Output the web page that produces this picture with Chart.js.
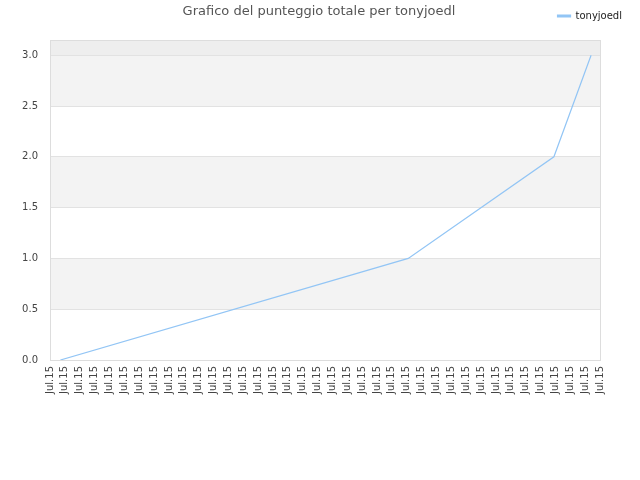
<!DOCTYPE html>
<html>
<head>
<meta charset="utf-8">
<script src="https://cdn.jsdelivr.net/npm/chart.js@4/dist/chart.umd.min.js"></script>
<style>
  html, body { margin: 0; padding: 0; background: #fff; }
  #wrap { width: 640px; height: 480px; }
</style>
</head>
<body>
<div id="wrap"><canvas id="chart" width="640" height="480"></canvas></div>
<script>
// data
const titleText = 'Grafico del punteggio totale per tonyjoedl';
const seriesName = 'tonyjoedl';
const tickLabel = 'Jul.15';
const times = [0.7, 24.1, 33.9, 36.4];
const scores = [0, 1, 2, 3];

const lineColor = '#92c5f5';

Chart.defaults.font.family = 'DejaVu Sans';
Chart.defaults.font.size = 10;
Chart.defaults.color = '#444';

// alternating grey bands + border round the plot area
const bands = {
  id: 'bands',
  beforeDraw(chart) {
    const { ctx, chartArea: a, scales: { y } } = chart;
    ctx.save();
    const fill = (lo, hi, c) => {
      const top = y.getPixelForValue(hi), bot = y.getPixelForValue(lo);
      ctx.fillStyle = c;
      ctx.fillRect(a.left, top, a.right - a.left, bot - top);
    };
    fill(0.5, 1.0, '#f3f3f3');
    fill(1.5, 2.0, '#f3f3f3');
    fill(2.5, 3.0, '#f3f3f3');
    fill(3.0, y.max, '#eeeeee');
    ctx.restore();
  },
  afterDraw(chart) {
    const { ctx, chartArea: a } = chart;
    ctx.save();
    ctx.strokeStyle = '#dddddd';
    ctx.lineWidth = 1;
    ctx.strokeRect(a.left + 0.5, a.top + 0.5, a.right - a.left, a.bottom - a.top);
    // title
    ctx.fillStyle = '#555';
    ctx.font = '13px "DejaVu Sans"';
    ctx.textAlign = 'center';
    ctx.textBaseline = 'middle';
    ctx.fillText(titleText, 319, 12);
    ctx.restore();
  }
};

new Chart(document.getElementById('chart'), {
  type: 'line',
  data: {
    datasets: [{
      label: seriesName,
      data: times.map((t, i) => ({ x: t, y: scores[i] })),
      borderColor: lineColor,
      backgroundColor: lineColor,
      borderWidth: 1.2,
      pointRadius: 0,
      tension: 0,
      fill: false
    }]
  },
  options: {
    responsive: false,
    animation: false,
    layout: { padding: { top: 1, right: 8, bottom: 0, left: 0 } },
    plugins: {
      title: { display: false },
      tooltip: { enabled: false },
      legend: {
        position: 'top',
        align: 'end',
        labels: { boxWidth: 13, boxHeight: 2, padding: 10, color: '#222', font: { size: 10 } }
      }
    },
    scales: {
      x: {
        type: 'linear',
        min: 0,
        max: 37,
        grid: { display: false, drawTicks: false },
        border: { display: false },
        ticks: {
          stepSize: 1,
          autoSkip: false,
          minRotation: 90,
          maxRotation: 90,
          padding: 6,
          color: '#444',
          callback: () => tickLabel
        },
        afterFit: s => { s.height = 120; }
      },
      // empty spacer between legend and plot
      xt: {
        type: 'linear',
        position: 'top',
        display: true,
        grid: { display: false, drawTicks: false },
        border: { display: false },
        ticks: { display: false },
        afterFit: s => { s.height = 9; }
      },
      y: {
        min: 0,
        max: 3.15,
        grid: { color: '#e2e2e2', drawTicks: false },
        border: { display: false },
        ticks: {
          stepSize: 0.5,
          padding: 12,
          color: '#444',
          callback: v => v.toFixed(1)
        },
        afterBuildTicks: s => { s.ticks = s.ticks.filter(t => t.value <= 3.0001); },
        afterFit: s => { s.width = 50; }
      },
      yr: {
        position: 'right',
        display: true,
        grid: { display: false, drawTicks: false },
        border: { display: false },
        ticks: { display: false },
        afterFit: s => { s.width = 32; }
      }
    }
  },
  plugins: [bands]
});
</script>
</body>
</html>
